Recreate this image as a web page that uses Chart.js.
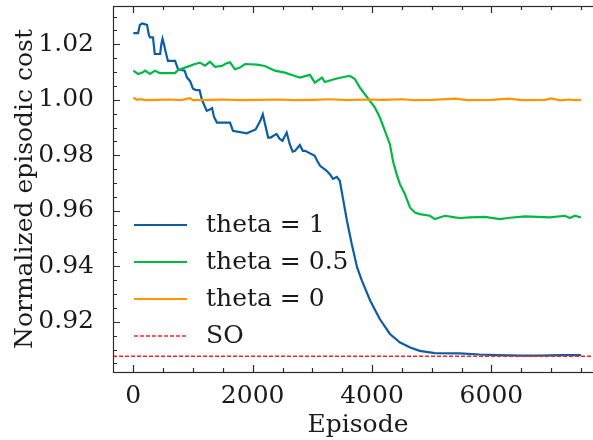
<!DOCTYPE html>
<html>
<head>
<meta charset="utf-8">
<script src="https://cdn.jsdelivr.net/npm/chart.js@4.4.0/dist/chart.umd.min.js"></script>
<style>
  html, body { margin: 0; padding: 0; background: #fff; overflow: hidden; }
  #wrap { width: 610px; height: 440px; }
</style>
</head>
<body>
<div id="wrap"><canvas id="costChart" width="610" height="440"></canvas></div>
<script>
// данные
const theta1Episodes = [0, 80, 110, 150, 230, 260, 280, 330, 360, 450, 470, 490, 520, 540, 580, 700, 750, 860, 900, 950, 1000, 1050, 1110, 1150, 1230, 1280, 1320, 1350, 1400, 1620, 1670, 1900, 2050, 2130, 2170, 2210, 2260, 2300, 2400, 2450, 2500, 2570, 2620, 2670, 2710, 2790, 2840, 2880, 3040, 3080, 3130, 3240, 3300, 3345, 3410, 3460, 3500, 3580, 3660, 3750, 3830, 3970, 4130, 4300, 4470, 4640, 4800, 5050, 5470, 5800, 6100, 6500, 6800, 7150, 7500];
const theta1Cost = [1.0240, 1.0240, 1.0270, 1.0275, 1.0270, 1.0235, 1.0225, 1.0225, 1.0165, 1.0165, 1.0200, 1.0220, 1.0195, 1.0175, 1.0140, 1.0140, 1.0110, 1.0105, 1.0080, 1.0068, 1.0040, 1.0035, 1.0035, 1.0000, 0.9960, 0.9965, 0.9970, 0.9940, 0.9918, 0.9918, 0.9888, 0.9879, 0.9893, 0.9925, 0.9948, 0.9910, 0.9864, 0.9864, 0.9877, 0.9860, 0.9852, 0.9882, 0.9841, 0.9813, 0.9816, 0.9837, 0.9816, 0.9816, 0.9798, 0.9780, 0.9762, 0.9744, 0.9730, 0.9715, 0.9722, 0.9708, 0.9660, 0.9564, 0.9480, 0.9396, 0.9348, 0.9276, 0.9210, 0.9156, 0.9125, 0.9107, 0.9095, 0.9087, 0.9086, 0.9082, 0.9080, 0.9078, 0.9078, 0.9080, 0.9080];

const theta05Episodes = [0, 79, 162, 196, 280, 363, 447, 698, 749, 866, 1034, 1117, 1201, 1285, 1369, 1486, 1536, 1620, 1703, 1787, 1871, 2071, 2205, 2372, 2540, 2707, 2791, 2959, 3042, 3160, 3210, 3378, 3545, 3629, 3712, 3796, 3880, 3964, 4048, 4132, 4216, 4300, 4350, 4412, 4467, 4551, 4635, 4718, 4802, 4970, 5053, 5221, 5389, 5472, 5640, 5891, 6142, 6310, 6561, 6980, 7231, 7315, 7399, 7500];
const theta05Cost = [1.0105, 1.0093, 1.0099, 1.0105, 1.0093, 1.0105, 1.0096, 1.0096, 1.0107, 1.0116, 1.0129, 1.0134, 1.0123, 1.0137, 1.0119, 1.0122, 1.0129, 1.0135, 1.0110, 1.0116, 1.0129, 1.0127, 1.0122, 1.0105, 1.0098, 1.0086, 1.0080, 1.0090, 1.0062, 1.0080, 1.0064, 1.0075, 1.0083, 1.0086, 1.0075, 1.0044, 1.0020, 0.9996, 0.9972, 0.9936, 0.9888, 0.9840, 0.9780, 0.9732, 0.9696, 0.9660, 0.9612, 0.9594, 0.9588, 0.9582, 0.9570, 0.9582, 0.9576, 0.9574, 0.9576, 0.9578, 0.9570, 0.9575, 0.9580, 0.9576, 0.9582, 0.9574, 0.9582, 0.9576];

const theta0Episodes = [0, 60, 120, 200, 400, 600, 800, 950, 1000, 1300, 1500, 1800, 2100, 2400, 2700, 3000, 3300, 3600, 3900, 4200, 4500, 4700, 5000, 5400, 5600, 6000, 6300, 6500, 6900, 7000, 7150, 7300, 7400, 7500];
const theta0Cost = [1.0008, 1.0000, 1.0002, 0.9999, 1.0000, 1.0001, 0.9999, 1.0006, 0.9999, 1.0000, 1.0001, 0.9999, 1.0000, 1.0001, 0.9999, 1.0000, 1.0002, 0.9999, 1.0001, 1.0000, 1.0002, 0.9999, 1.0000, 1.0004, 0.9999, 1.0000, 1.0004, 0.9999, 1.0000, 1.0005, 0.9998, 1.0001, 0.9999, 1.0000];

const soCost = 0.9076;

const xTickValues = [0, 2000, 4000, 6000];
const xMinorValues = [500, 1000, 1500, 2500, 3000, 3500, 4500, 5000, 5500, 6500, 7000, 7500];
const yTickValues = [0.92, 0.94, 0.96, 0.98, 1.00, 1.02];
const yMinorValues = [0.905, 0.910, 0.915, 0.925, 0.930, 0.935, 0.945, 0.950, 0.955, 0.965, 0.970, 0.975, 0.985, 0.990, 0.995, 1.005, 1.010, 1.015, 1.025, 1.030];

const X_MIN = -340, X_MAX = 7870;
const Y_MIN = 0.9019, Y_MAX = 1.0338;

const FONT = { family: 'DejaVu Serif', size: 25 };
const INK = '#1a1a1a';

const toPoints = (xs, ys) => xs.map((x, i) => ({ x, y: ys[i] }));

// рамка и внутренние засечки, как в matplotlib
const frameTicks = {
  id: 'frameTicks',
  afterDatasetsDraw(chart) {
    const { ctx, chartArea: a, scales: { x, y } } = chart;
    ctx.save();
    ctx.strokeStyle = '#2a2a2a';
    ctx.lineWidth = 1.2;
    ctx.beginPath();
    const xt = (v, len) => {
      const px = Math.round(x.getPixelForValue(v)) + 0.5;
      ctx.moveTo(px, a.bottom); ctx.lineTo(px, a.bottom - len);
      ctx.moveTo(px, a.top);    ctx.lineTo(px, a.top + len);
    };
    const yt = (v, len) => {
      const py = Math.round(y.getPixelForValue(v)) + 0.5;
      ctx.moveTo(a.left, py);  ctx.lineTo(a.left + len, py);
      ctx.moveTo(a.right, py); ctx.lineTo(a.right - len, py);
    };
    xTickValues.forEach(v => xt(v, 7));
    xMinorValues.forEach(v => xt(v, 4));
    yTickValues.forEach(v => yt(v, 7));
    yMinorValues.forEach(v => yt(v, 4));
    ctx.stroke();
    ctx.strokeRect(a.left + 0.5, a.top + 0.5, a.width, a.height);
    ctx.restore();
  }
};

// легенда внутри области графика, без рамки
const insideLegend = {
  id: 'insideLegend',
  afterDraw(chart) {
    const { ctx, chartArea: a } = chart;
    const x0 = a.left + 21, x1 = a.left + 74, tx = a.left + 93;
    let yy = 225;
    ctx.save();
    ctx.font = `${FONT.size}px "${FONT.family}"`;
    ctx.textBaseline = 'middle';
    ctx.fillStyle = INK;
    chart.data.datasets.forEach(ds => {
      ctx.strokeStyle = ds.borderColor;
      ctx.lineWidth = ds.borderWidth;
      ctx.setLineDash(ds.borderDash || []);
      ctx.beginPath();
      ctx.moveTo(x0, yy); ctx.lineTo(x1, yy);
      ctx.stroke();
      ctx.fillText(ds.label, tx, yy);
      yy += 37;
    });
    ctx.restore();
  }
};

// убрать автоматические отступы под крайние подписи
const noEdgePadding = s => {
  s.paddingTop = 0; s.paddingBottom = 0;
  s.paddingLeft = 0; s.paddingRight = 0;
};

new Chart(document.getElementById('costChart'), {
  type: 'line',
  data: {
    datasets: [
      { label: 'theta = 1',   data: toPoints(theta1Episodes, theta1Cost),   borderColor: '#0C5DA5', borderWidth: 2.2, order: 4 },
      { label: 'theta = 0.5', data: toPoints(theta05Episodes, theta05Cost), borderColor: '#00B945', borderWidth: 2.2, order: 3 },
      { label: 'theta = 0',   data: toPoints(theta0Episodes, theta0Cost),   borderColor: '#FF9500', borderWidth: 2.2, order: 2 },
      { label: 'SO', data: [{ x: X_MIN, y: soCost }, { x: X_MAX, y: soCost }],
        borderColor: '#FF2020', borderWidth: 1.4, borderDash: [4, 2], order: 1 }
    ]
  },
  options: {
    responsive: false,
    animation: false,
    layout: { padding: { left: 0, right: 7, top: 6, bottom: 0 } },
    elements: { point: { radius: 0 }, line: { tension: 0, fill: false } },
    plugins: { legend: { display: false }, tooltip: { enabled: false } },
    scales: {
      x: {
        type: 'linear', min: X_MIN, max: X_MAX,
        grid: { display: false },
        border: { display: false },
        afterBuildTicks: s => { s.ticks = xTickValues.map(value => ({ value })); },
        afterFit: s => { s.height = 68; noEdgePadding(s); },
        ticks: { color: INK, font: FONT, padding: 1, maxRotation: 0, callback: v => String(v) },
        title: { display: true, text: 'Episode', color: INK, font: FONT, padding: { top: 0, bottom: 0 } }
      },
      y: {
        type: 'linear', min: Y_MIN, max: Y_MAX,
        grid: { display: false },
        border: { display: false },
        afterBuildTicks: s => { s.ticks = yTickValues.map(value => ({ value })); },
        afterFit: s => { s.width = 113; noEdgePadding(s); },
        ticks: { color: INK, font: FONT, padding: 11, callback: v => v.toFixed(2) },
        title: { display: true, text: 'Normalized episodic cost', color: INK, font: FONT, padding: { top: 10, bottom: 0 } }
      }
    }
  },
  plugins: [frameTicks, insideLegend]
});
</script>
</body>
</html>
